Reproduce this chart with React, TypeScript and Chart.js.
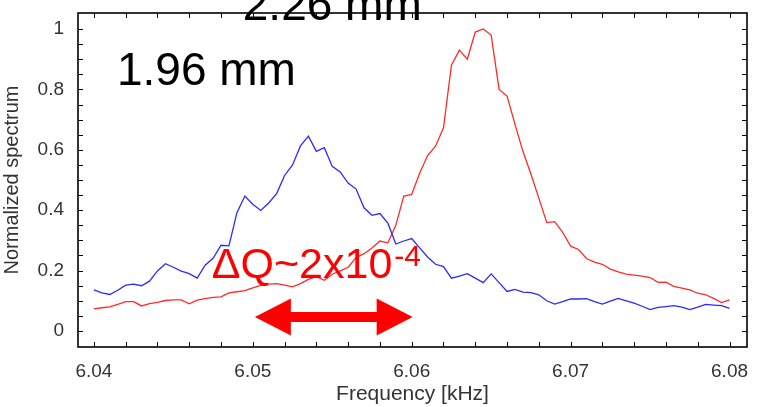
import { useEffect, useRef } from 'react';
import { Chart, registerables } from 'chart.js';

Chart.register(...registerables);

// Frequency grid [kHz]
const frequencies = [
  6.0400, 6.0405, 6.0410, 6.0415, 6.0420, 6.0425, 6.0430, 6.0435, 6.0440, 6.0445,
  6.0450, 6.0455, 6.0460, 6.0465, 6.0470, 6.0475, 6.0480, 6.0485, 6.0490, 6.0495,
  6.0500, 6.0505, 6.0510, 6.0515, 6.0520, 6.0525, 6.0530, 6.0535, 6.0540, 6.0545,
  6.0550, 6.0555, 6.0560, 6.0565, 6.0570, 6.0575, 6.0580, 6.0585, 6.0590, 6.0595,
  6.0600, 6.0605, 6.0610, 6.0615, 6.0620, 6.0625, 6.0630, 6.0635, 6.0640, 6.0645,
  6.0650, 6.0655, 6.0660, 6.0665, 6.0670, 6.0675, 6.0680, 6.0685, 6.0690, 6.0695,
  6.0700, 6.0705, 6.0710, 6.0715, 6.0720, 6.0725, 6.0730, 6.0735, 6.0740, 6.0745,
  6.0750, 6.0755, 6.0760, 6.0765, 6.0770, 6.0775, 6.0780, 6.0785, 6.0790, 6.0795,
  6.0800,
];

// 1.96 mm spectrum (blue)
const spectrum196 = [
  0.136, 0.126, 0.121, 0.135, 0.152, 0.155, 0.150, 0.165, 0.199, 0.223,
  0.211, 0.198, 0.190, 0.175, 0.218, 0.241, 0.284, 0.282, 0.392, 0.447,
  0.420, 0.399, 0.424, 0.455, 0.515, 0.550, 0.613, 0.645, 0.595, 0.607,
  0.545, 0.527, 0.490, 0.470, 0.408, 0.383, 0.389, 0.357, 0.288, 0.298,
  0.306, 0.275, 0.245, 0.221, 0.213, 0.175, 0.182, 0.190, 0.175, 0.160,
  0.189, 0.160, 0.131, 0.138, 0.129, 0.127, 0.120, 0.100, 0.089, 0.097,
  0.106, 0.106, 0.107, 0.097, 0.089, 0.099, 0.108, 0.100, 0.092, 0.082,
  0.071, 0.078, 0.081, 0.084, 0.079, 0.071, 0.079, 0.088, 0.086, 0.084,
  0.075,
];

// 2.26 mm spectrum (red)
const spectrum226 = [
  0.073, 0.077, 0.080, 0.088, 0.097, 0.097, 0.083, 0.091, 0.095, 0.101,
  0.103, 0.103, 0.090, 0.102, 0.107, 0.111, 0.113, 0.126, 0.130, 0.134,
  0.143, 0.151, 0.155, 0.157, 0.152, 0.146, 0.157, 0.171, 0.180, 0.168,
  0.188, 0.199, 0.211, 0.243, 0.256, 0.275, 0.298, 0.292, 0.350, 0.447,
  0.452, 0.522, 0.581, 0.612, 0.673, 0.880, 0.930, 0.900, 0.990, 1.000,
  0.980, 0.800, 0.778, 0.684, 0.595, 0.520, 0.440, 0.359, 0.362, 0.327,
  0.281, 0.270, 0.240, 0.228, 0.221, 0.205, 0.196, 0.188, 0.185, 0.182,
  0.177, 0.161, 0.162, 0.148, 0.142, 0.136, 0.125, 0.120, 0.108, 0.094,
  0.103,
];

const xTickValues = [6.04, 6.05, 6.06, 6.07, 6.08];
const xTickLabels = ['6.04', '6.05', '6.06', '6.07', '6.08'];
const yTickValues = [0, 0.2, 0.4, 0.6, 0.8, 1];
const yTickLabels = ['0', '0.2', '0.4', '0.6', '0.8', '1'];
const xMinorTicks = [
  6.040, 6.042, 6.044, 6.046, 6.048, 6.050, 6.052, 6.054, 6.056, 6.058, 6.060,
  6.062, 6.064, 6.066, 6.068, 6.070, 6.072, 6.074, 6.076, 6.078, 6.080,
];
const yMinorTicks = [
  0, 0.05, 0.1, 0.15, 0.2, 0.25, 0.3, 0.35, 0.4, 0.45, 0.5,
  0.55, 0.6, 0.65, 0.7, 0.75, 0.8, 0.85, 0.9, 0.95, 1,
];

const FONT = '"Liberation Sans", Arial, sans-serif';

const framePlugin = {
  id: 'frameTicks',
  afterDatasetsDraw(chart: any) {
    const { ctx, chartArea: a, scales } = chart;
    const x = scales.x;
    const y = scales.y;
    ctx.save();
    ctx.strokeStyle = '#000';
    ctx.lineWidth = 1;
    ctx.beginPath();
    const L = 5;
    for (const v of xMinorTicks) {
      const px = Math.round(x.getPixelForValue(v)) + 0.5;
      ctx.moveTo(px, a.bottom);
      ctx.lineTo(px, a.bottom - L);
      ctx.moveTo(px, a.top);
      ctx.lineTo(px, a.top + L);
    }
    for (const v of yMinorTicks) {
      const py = Math.round(y.getPixelForValue(v)) + 0.5;
      ctx.moveTo(a.left, py);
      ctx.lineTo(a.left + L, py);
      ctx.moveTo(a.right, py);
      ctx.lineTo(a.right - L, py);
    }
    ctx.stroke();
    ctx.lineWidth = 1.6;
    ctx.strokeRect(a.left, a.top, a.right - a.left, a.bottom - a.top);
    ctx.restore();
  },
};

const annotationPlugin = {
  id: 'annotations',
  afterDraw(chart: any) {
    const { ctx, scales } = chart;
    const x = scales.x;
    const y = scales.y;
    ctx.save();
    ctx.textBaseline = 'alphabetic';
    ctx.textAlign = 'left';
    // size labels
    ctx.fillStyle = '#000';
    ctx.font = `46px ${FONT}`;
    ctx.fillText('1.96 mm', x.getPixelForValue(6.04145), y.getPixelForValue(0.815));
    ctx.fillText('2.26 mm', x.getPixelForValue(6.04937), y.getPixelForValue(1.03));
    // delta Q label
    ctx.fillStyle = '#ff0000';
    ctx.font = `43px ${FONT}`;
    const qx = x.getPixelForValue(6.04742);
    const qy = y.getPixelForValue(0.175);
    const main = '\u0394Q~2x10';
    ctx.fillText(main, qx, qy);
    const w = ctx.measureText(main).width;
    ctx.font = `30px ${FONT}`;
    ctx.fillText('-4', qx + w + 2, qy - 12);
    // double arrow
    const x1 = x.getPixelForValue(6.05013);
    const x2 = x.getPixelForValue(6.06006);
    const ym = y.getPixelForValue(0.046);
    const headL = 36;
    const headH = 18.5;
    const shaft = 5;
    ctx.beginPath();
    ctx.moveTo(x1, ym);
    ctx.lineTo(x1 + headL, ym - headH);
    ctx.lineTo(x1 + headL, ym - shaft);
    ctx.lineTo(x2 - headL, ym - shaft);
    ctx.lineTo(x2 - headL, ym - headH);
    ctx.lineTo(x2, ym);
    ctx.lineTo(x2 - headL, ym + headH);
    ctx.lineTo(x2 - headL, ym + shaft);
    ctx.lineTo(x1 + headL, ym + shaft);
    ctx.lineTo(x1 + headL, ym + headH);
    ctx.closePath();
    ctx.fill();
    ctx.restore();
  },
};

export default function App() {
  const canvasRef = useRef<HTMLCanvasElement | null>(null);

  useEffect(() => {
    const canvas = canvasRef.current;
    if (!canvas) return;
    const chart = new Chart(canvas, {
      type: 'line',
      data: {
        datasets: [
          {
            label: '1.96 mm',
            data: frequencies.map((f, i) => ({ x: f, y: spectrum196[i] })),
            borderColor: '#2a2aff',
            borderWidth: 1.3,
            pointRadius: 0,
            tension: 0,
            fill: false,
          },
          {
            label: '2.26 mm',
            data: frequencies.map((f, i) => ({ x: f, y: spectrum226[i] })),
            borderColor: '#ff2a2a',
            borderWidth: 1.3,
            pointRadius: 0,
            tension: 0,
            fill: false,
          },
        ],
      },
      options: {
        animation: false,
        responsive: false,
        maintainAspectRatio: false,
        devicePixelRatio: 1,
        layout: { padding: { left: 0, top: 13, right: 10, bottom: 0 } },
        plugins: {
          legend: { display: false },
          tooltip: { enabled: false },
        },
        scales: {
          x: {
            type: 'linear',
            min: 6.039,
            max: 6.0811,
            afterBuildTicks: (s: any) => {
              s.ticks = xTickValues.map((v) => ({ value: v }));
            },
            afterFit: (s: any) => {
              s.height = 60;
              s.paddingLeft = 0;
              s.paddingRight = 0;
            },
            grid: { display: false, drawTicks: false },
            border: { display: false },
            ticks: {
              padding: 13,
              color: '#333',
              font: { family: FONT, size: 19 },
              maxRotation: 0,
              autoSkip: false,
              callback: (v: any) => {
                const i = xTickValues.findIndex((t) => Math.abs(t - v) < 1e-6);
                return i >= 0 ? xTickLabels[i] : '';
              },
            },
            title: {
              display: true,
              text: 'Frequency [kHz]',
              color: '#333',
              font: { family: FONT, size: 21 },
              padding: { top: 0, bottom: 0 },
            },
          },
          y: {
            type: 'linear',
            min: -0.053,
            max: 1.053,
            afterBuildTicks: (s: any) => {
              s.ticks = yTickValues.map((v) => ({ value: v }));
            },
            afterFit: (s: any) => {
              s.width = 78;
              s.paddingTop = 0;
              s.paddingBottom = 0;
            },
            grid: { display: false, drawTicks: false },
            border: { display: false },
            ticks: {
              padding: 14,
              color: '#333',
              font: { family: FONT, size: 19 },
              autoSkip: false,
              callback: (v: any) => {
                const i = yTickValues.findIndex((t) => Math.abs(t - v) < 1e-6);
                return i >= 0 ? yTickLabels[i] : '';
              },
            },
            title: {
              display: true,
              text: 'Normalized spectrum',
              color: '#333',
              font: { family: FONT, size: 20 },
              padding: { top: 0, bottom: 0 },
            },
          },
        },
      },
      plugins: [framePlugin, annotationPlugin],
    });
    return () => chart.destroy();
  }, []);

  return (
    <div style={{ position: 'fixed', left: 0, top: 0, width: 757, height: 407, background: '#fff' }}>
      <canvas ref={canvasRef} width={757} height={407} style={{ width: 757, height: 407, display: 'block' }} />
    </div>
  );
}
